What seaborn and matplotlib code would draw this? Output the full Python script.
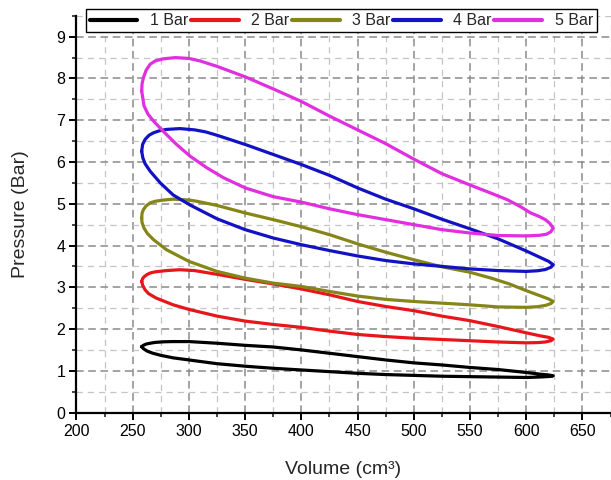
import matplotlib
matplotlib.use("Agg")
import matplotlib.pyplot as plt
from matplotlib.ticker import MultipleLocator
import numpy as np
import pandas as pd
import seaborn as sns

# P-V loops for each charging pressure (volume in cm^3, pressure in bar),
# traced from the left end along the upper branch and back along the lower one.
series_names = ["1 Bar", "2 Bar", "3 Bar", "4 Bar", "5 Bar"]
series_colors = ["#000000", "#e8161b", "#858518", "#1212c4", "#e02ee0"]

vol_1bar = [258, 259.5, 262, 265.5, 270, 278, 286, 300, 325, 350, 375, 400, 425, 450, 475, 500, 525, 550, 575, 600, 612, 620, 624,
            621, 615, 606, 600, 575, 550, 525, 500, 475, 450, 425, 400, 375, 350, 325, 300, 286, 275, 268, 263, 259.5, 258]
prs_1bar = [1.58, 1.61, 1.64, 1.66, 1.68, 1.695, 1.70, 1.70, 1.66, 1.61, 1.57, 1.50, 1.42, 1.34, 1.26, 1.19, 1.14, 1.08, 1.03, 0.96, 0.92, 0.90, 0.88,
            0.865, 0.855, 0.845, 0.84, 0.85, 0.86, 0.87, 0.89, 0.91, 0.94, 0.98, 1.02, 1.06, 1.11, 1.17, 1.26, 1.31, 1.37, 1.42, 1.47, 1.53, 1.58]

vol_2bar = [258, 258.7, 260, 263, 266, 270, 280, 292, 305, 325, 350, 375, 400, 425, 450, 475, 500, 525, 550, 575, 600, 612, 620, 624,
            622, 617, 610, 600, 575, 550, 525, 500, 475, 450, 425, 400, 375, 350, 325, 300, 286, 271, 264, 261, 259, 258]
prs_2bar = [3.14, 3.20, 3.25, 3.31, 3.345, 3.37, 3.40, 3.42, 3.40, 3.31, 3.19, 3.08, 2.96, 2.82, 2.66, 2.54, 2.44, 2.31, 2.20, 2.06, 1.91, 1.84, 1.80, 1.76,
            1.72, 1.69, 1.675, 1.67, 1.69, 1.72, 1.75, 1.78, 1.82, 1.87, 1.95, 2.04, 2.11, 2.19, 2.31, 2.47, 2.58, 2.74, 2.85, 2.94, 3.04, 3.14]

vol_3bar = [258, 258.3, 259.5, 262, 265.5, 270, 278, 286, 300, 307, 325, 350, 375, 400, 425, 450, 475, 500, 525, 550, 570, 585, 600, 612, 620, 624,
            622, 617, 610, 600, 575, 550, 525, 500, 475, 450, 425, 400, 375, 350, 325, 300, 280, 268.5, 263, 260, 258.3, 258]
prs_3bar = [4.66, 4.77, 4.86, 4.95, 5.02, 5.06, 5.09, 5.11, 5.09, 5.06, 4.96, 4.78, 4.62, 4.45, 4.26, 4.04, 3.84, 3.66, 3.49, 3.36, 3.21, 3.08, 2.92, 2.80, 2.72, 2.66,
            2.61, 2.565, 2.535, 2.52, 2.53, 2.58, 2.62, 2.66, 2.71, 2.79, 2.90, 3.02, 3.10, 3.22, 3.38, 3.62, 3.90, 4.14, 4.29, 4.42, 4.55, 4.66]

vol_4bar = [258, 258.8, 261, 264.5, 268.5, 274, 280, 292, 305, 315, 325, 350, 375, 400, 425, 450, 475, 500, 525, 550, 575, 600, 612, 620, 624,
            622, 617, 610, 600, 575, 550, 525, 500, 475, 450, 425, 400, 375, 350, 325, 301, 286, 274.5, 265.5, 261, 259, 258]
prs_4bar = [6.26, 6.42, 6.54, 6.64, 6.70, 6.75, 6.78, 6.80, 6.77, 6.72, 6.64, 6.42, 6.18, 5.94, 5.68, 5.38, 5.11, 4.88, 4.63, 4.40, 4.16, 3.87, 3.72, 3.62, 3.54,
            3.48, 3.425, 3.395, 3.38, 3.40, 3.44, 3.50, 3.56, 3.64, 3.75, 3.88, 4.02, 4.18, 4.38, 4.64, 4.97, 5.21, 5.50, 5.78, 5.96, 6.10, 6.26]

vol_5bar = [258, 258.3, 259.5, 262, 265.5, 270, 277, 288, 300, 310, 325, 350, 375, 400, 425, 450, 475, 500, 525, 550, 570, 583, 595, 604, 612, 617, 621, 624,
            622, 618, 612, 600, 575, 550, 525, 500, 475, 450, 425, 400, 375, 350, 331, 316, 301, 289, 277, 268.5, 263.5, 260, 258]
prs_5bar = [7.70, 7.87, 8.02, 8.20, 8.34, 8.42, 8.47, 8.50, 8.48, 8.42, 8.29, 8.04, 7.75, 7.45, 7.10, 6.77, 6.44, 6.07, 5.72, 5.45, 5.24, 5.10, 4.93, 4.78, 4.69, 4.62, 4.53, 4.42,
            4.33, 4.27, 4.245, 4.23, 4.24, 4.30, 4.38, 4.50, 4.62, 4.74, 4.88, 5.04, 5.17, 5.38, 5.62, 5.86, 6.14, 6.42, 6.74, 6.98, 7.15, 7.35, 7.70]

x_ticks = [200, 250, 300, 350, 400, 450, 500, 550, 600, 650]
y_ticks = [0, 1, 2, 3, 4, 5, 6, 7, 8, 9]

volumes = [vol_1bar, vol_2bar, vol_3bar, vol_4bar, vol_5bar]
pressures = [prs_1bar, prs_2bar, prs_3bar, prs_4bar, prs_5bar]
frames = []
for name, v, p in zip(series_names, volumes, pressures):
    frames.append(pd.DataFrame({"Volume": v, "Pressure": p, "Series": name}))
df = pd.concat(frames, ignore_index=True)

sns.set_style("ticks")
plt.rcParams["font.family"] = ["Liberation Sans", "DejaVu Sans"]

fig = plt.figure(figsize=(6.11, 4.80), dpi=100)
ax = fig.add_axes([0.1252, 0.1405, 0.874, 0.8265])

sns.lineplot(data=df, x="Volume", y="Pressure", hue="Series", hue_order=series_names,
             palette=dict(zip(series_names, series_colors)), sort=False, estimator=None,
             linewidth=2.3, ax=ax, legend=True)
for line in ax.lines:
    line.set_solid_joinstyle("round")

ax.set_xlim(200, 675)
ax.set_ylim(0, 9.5)
ax.set_xticks(x_ticks)
ax.set_yticks(y_ticks)
ax.xaxis.set_minor_locator(MultipleLocator(25))
ax.yaxis.set_minor_locator(MultipleLocator(0.5))

ax.set_axisbelow(True)
ax.grid(which="major", linestyle=(0, (5, 3)), color="#8a8a8a", linewidth=1.1)
ax.grid(which="minor", linestyle=(0, (5, 4)), color="#c4c4c4", linewidth=0.9)

for side in ("top", "right"):
    ax.spines[side].set_visible(False)
for side in ("left", "bottom"):
    ax.spines[side].set_linewidth(1.6)
    ax.spines[side].set_color("black")

ax.tick_params(which="major", direction="out", length=5, width=1.4, labelsize=11.5, colors="black", pad=3)
ax.tick_params(which="minor", direction="out", length=3, width=1.2)

ax.set_xlabel("Volume (cm\u00b3)", fontsize=14, labelpad=16)
ax.set_ylabel("Pressure (Bar)", fontsize=14, labelpad=20)

handles, labels = ax.get_legend_handles_labels()
for h in handles:
    h.set_linewidth(3)
leg = ax.legend(handles, labels, ncol=5, mode="expand", loc="lower left",
                bbox_to_anchor=(0.140, 0.933, 0.837, 0.050), bbox_transform=fig.transFigure,
                borderaxespad=0, frameon=True, fancybox=False, fontsize=11.5,
                handlelength=3.0, handletextpad=0.8, columnspacing=0.6,
                borderpad=0.25)
leg.get_frame().set_edgecolor("black")
leg.get_frame().set_linewidth(1.0)
leg.get_frame().set_facecolor("white")
leg.get_frame().set_alpha(1)

fig.savefig("out.png", dpi=100)
